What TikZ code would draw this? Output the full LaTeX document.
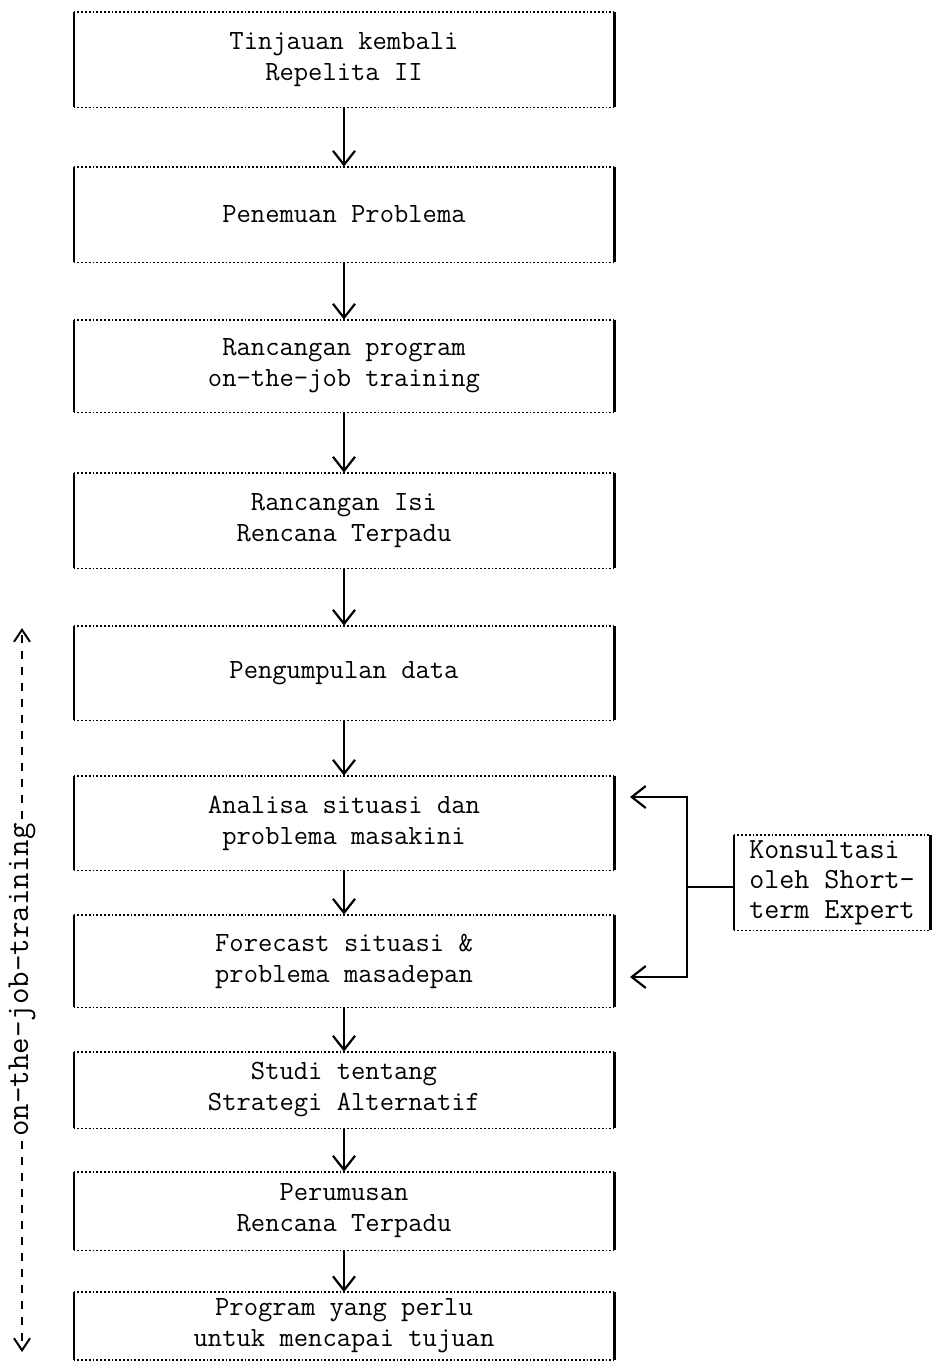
\documentclass[tikz,border=0pt]{standalone}
\usepackage{tikz}
\usetikzlibrary{arrows.meta,positioning}
\newcommand{\boxfont}{\ttfamily\fontsize{13.9}{15.5}\selectfont}
\newcommand{\sidefont}{\ttfamily\fontsize{14.6}{15}\selectfont}
\newcommand{\ojtfont}{\ttfamily\fontsize{16}{16}\selectfont}
\tikzstyle{sidebar} = [line width=1.1pt]
\tikzstyle{dotbar} = [line width=0.9pt,densely dotted]
\tikzstyle{stage} = [inner sep=0pt,minimum width=270pt,align=center,font=\boxfont,
  append after command={
    (\tikzlastnode.north west) edge[sidebar] (\tikzlastnode.south west)
    (\tikzlastnode.north east) edge[sidebar] (\tikzlastnode.south east)
    (\tikzlastnode.north west) edge[dotbar] (\tikzlastnode.north east)
    (\tikzlastnode.south west) edge[dotbar] (\tikzlastnode.south east)}]
\tikzstyle{flowarrow} = [line width=1.1pt,-{Straight Barb[length=7pt,width=11pt]}]
\tikzstyle{ojtarrow} = [line width=1pt,dash pattern=on 4pt off 4pt,-{Straight Barb[length=6pt,width=8pt]}]

\begin{document}
\begin{tikzpicture}[x=0.5pt,y=-0.5pt]
    \useasboundingbox (0,0) rectangle (932,1362);
    % main column
    \node[stage,minimum height=47.5pt] (b1) at (344,59.5) {Tinjauan kembali\\Repelita II};
    \node[stage,minimum height=47.5pt] (b2) at (344,214.5) {Penemuan Problema};
    \node[stage,minimum height=46pt] (b3) at (344,366) {Rancangan program\\on-the-job training};
    \node[stage,minimum height=47.5pt] (b4) at (344,520.5) {Rancangan Isi\\Rencana Terpadu};
    \node[stage,minimum height=47pt] (b5) at (344,673) {Pengumpulan data};
    \node[stage,minimum height=47pt] (b6) at (344,823) {Analisa situasi dan\\problema masakini};
    \node[stage,minimum height=46pt] (b7) at (344,961) {Forecast situasi \&\\problema masadepan};
    \node[stage,minimum height=38pt] (b8) at (344,1090) {Studi tentang\\Strategi Alternatif};
    \node[stage,minimum height=39pt] (b9) at (344,1211) {Perumusan\\Rencana Terpadu};
    \node[stage,minimum height=33.5pt] (b10) at (344,1326) {Program yang perlu\\untuk mencapai tujuan};
    \draw[flowarrow] (b1.south) -- (b2.north);
    \draw[flowarrow] (b2.south) -- (b3.north);
    \draw[flowarrow] (b3.south) -- (b4.north);
    \draw[flowarrow] (b4.south) -- (b5.north);
    \draw[flowarrow] (b5.south) -- (b6.north);
    \draw[flowarrow] (b6.south) -- (b7.north);
    \draw[flowarrow] (b7.south) -- (b8.north);
    \draw[flowarrow] (b8.south) -- (b9.north);
    \draw[flowarrow] (b9.south) -- (b10.north);
    % consultation
    \node[stage,minimum width=98pt,minimum height=47.5pt,align=left,font=\sidefont] (kons) at (832,882.5)
        {Konsultasi\\oleh Short-\\term Expert};
    \coordinate (split) at (687,887);
    \coordinate (in6) at (630,797);
    \coordinate (in7) at (630,977);
    \draw[sidebar] (kons.west |- split) -- (split);
    \draw[flowarrow] (split) |- (in6);
    \draw[flowarrow] (split) |- (in7);
    % on-the-job training span
    \node[rotate=90,inner sep=2pt,font=\ojtfont] (ojt) at (22,980) {on-the-job-training};
    \coordinate (ojttop) at (22,628);
    \coordinate (ojtbot) at (22,1352);
    \draw[ojtarrow] (ojt.east) -- (ojttop);
    \draw[ojtarrow] (ojt.west) -- (ojtbot);
\end{tikzpicture}
\end{document}
